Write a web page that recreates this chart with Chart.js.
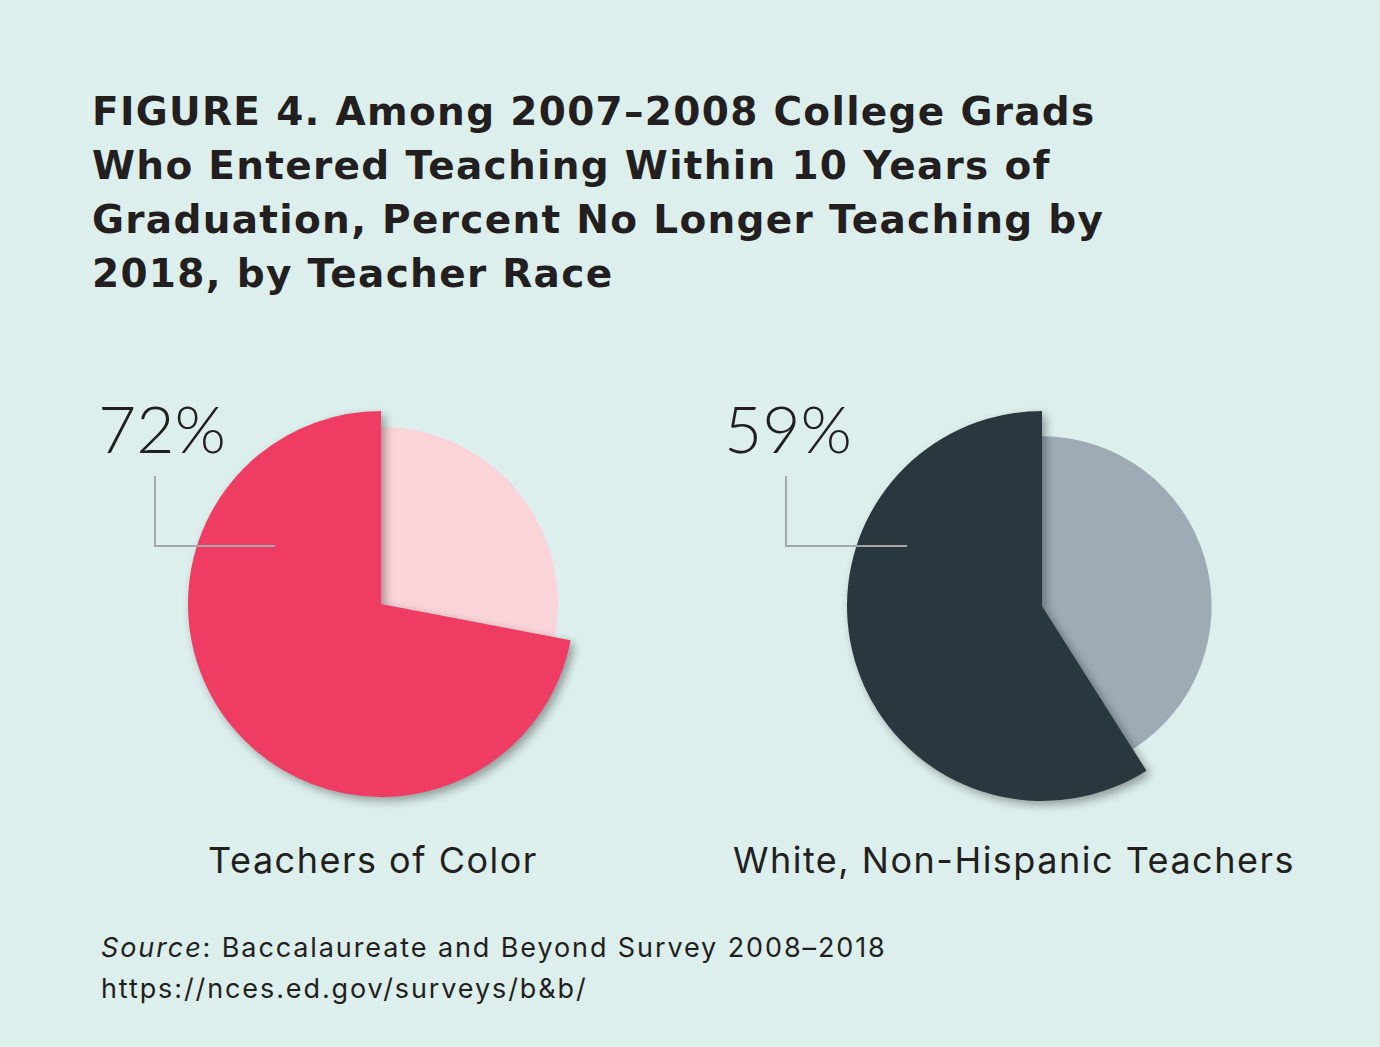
<!DOCTYPE html>
<html>
<head>
<meta charset="utf-8">
<script src="https://cdn.jsdelivr.net/npm/chart.js@4.4.0/dist/chart.umd.min.js"></script>
<style>
  html, body { margin: 0; padding: 0; }
  body { width: 1380px; height: 1047px; background: #dcefec; position: relative; overflow: hidden; font-family: Inter, "Open Sans", sans-serif; color: #231f20; }
  #title { position: absolute; left: 92px; top: 85px; font-family: "DejaVu Sans", Inter, sans-serif; font-weight: 700; font-size: 39px; line-height: 54px; letter-spacing: 1.3px; white-space: nowrap; }
  .pct { position: absolute; font-family: Lato, Inter, sans-serif; font-weight: 300; font-size: 66px; line-height: 66px; color: #231f20; }
  .leader { position: absolute; border-left: 2px solid #a6a8ab; border-bottom: 2px solid #a6a8ab; }
  .cat { position: absolute; font-size: 36px; line-height: 40px; letter-spacing: 1.5px; text-align: center; width: 660px; white-space: nowrap; }
  .holder { position: absolute; width: 460px; height: 460px; }
  #source { position: absolute; left: 101px; top: 927px; font-size: 27px; line-height: 41px; letter-spacing: 1.9px; white-space: nowrap; }
</style>
</head>
<body>
<div id="title">FIGURE 4. Among 2007–2008 College Grads<br>Who Entered Teaching Within 10 Years of<br>Graduation, Percent No Longer Teaching by<br>2018, by Teacher Race</div>

<div class="holder" style="left:151px; top:374px;"><canvas id="pieLeft" width="460" height="460"></canvas></div>
<div class="holder" style="left:812px; top:376px;"><canvas id="pieRight" width="460" height="460"></canvas></div>

<div class="pct" id="pctLeft" style="left:98px; top:395px;"></div>
<div class="pct" id="pctRight" style="left:724px; top:395px;"></div>
<div class="leader" style="left:154px; top:476px; width:119px; height:69px;"></div>
<div class="leader" style="left:785px; top:476px; width:120px; height:69px;"></div>

<div class="cat" id="catLeft" style="left:43px; top:840px;"></div>
<div class="cat" id="catRight" style="left:684px; top:840px;"></div>

<div id="source"><i>Source</i>: Baccalaureate and Beyond Survey 2008–2018<br>https://nces.ed.gov/surveys/b&amp;b/</div>

<script>
var groups = ["Teachers of Color", "White, Non-Hispanic Teachers"];
var sliceLabels = ["Still teaching", "No longer teaching"];
var leftValues = [28, 72];
var rightValues = [41, 59];
var leftColors = ["#fad4d9", "#ee3c62"];
var rightColors = ["#9eabb5", "#29373e"];

document.getElementById("pctLeft").textContent = leftValues[1] + "%";
document.getElementById("pctRight").textContent = rightValues[1] + "%";
document.getElementById("catLeft").textContent = groups[0];
document.getElementById("catRight").textContent = groups[1];

// the small slice sits inside a smaller radius, the big one casts a shadow
var sliceSizer = {
    id: "sliceSizer",
    afterDatasetsUpdate: function(chart, args, opts) {
        var meta = chart.getDatasetMeta(0);
        var small = meta.data[0];
        var big = meta.data[1];
        small.outerRadius = big.outerRadius * opts.ratio;
        if (!big._shadowed) {
            var baseDraw = big.draw;
            big.draw = function(ctx) {
                ctx.save();
                ctx.shadowColor = "rgba(0,0,0,0.35)";
                ctx.shadowBlur = 10;
                ctx.shadowOffsetX = 4;
                ctx.shadowOffsetY = 4;
                baseDraw.call(this, ctx);
                ctx.restore();
            };
            big._shadowed = true;
        }
    }
};

function makePie(id, values, colors, radius, ratio) {
    return new Chart(document.getElementById(id), {
        type: "pie",
        data: {
            labels: sliceLabels,
            datasets: [{
                data: values,
                backgroundColor: colors,
                borderWidth: 0,
                hoverOffset: 0
            }]
        },
        options: {
            responsive: false,
            animation: false,
            radius: radius,
            plugins: {
                legend: { display: false },
                tooltip: { enabled: false },
                sliceSizer: { ratio: ratio }
            }
        },
        plugins: [sliceSizer]
    });
}

var leftPie = makePie("pieLeft", leftValues, leftColors, 193, 0.917);
var rightPie = makePie("pieRight", rightValues, rightColors, 195, 0.87);
</script>
</body>
</html>
